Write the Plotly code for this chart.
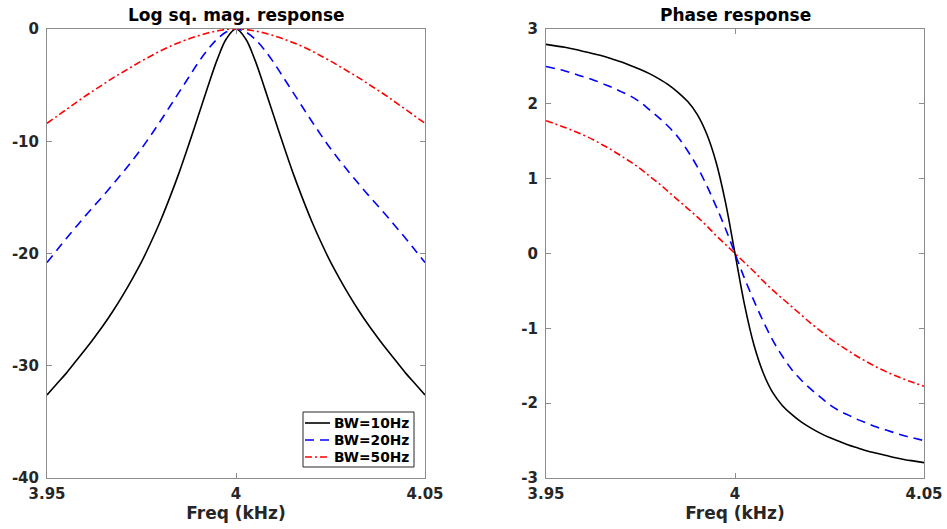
import plotly.graph_objects as go

# Frequency grid (kHz), 2.5 Hz steps from 3.95 to 4.05
FREQ_KHZ = [3.95, 3.9525, 3.955, 3.9575, 3.96, 3.9625, 3.965, 3.9675, 3.97, 3.9725,
            3.975, 3.9775, 3.98, 3.9825, 3.985, 3.9875, 3.99, 3.9925, 3.995, 3.9975,
            4.0,
            4.0025, 4.005, 4.0075, 4.01, 4.0125, 4.015, 4.0175, 4.02, 4.0225, 4.025,
            4.0275, 4.03, 4.0325, 4.035, 4.0375, 4.04, 4.0425, 4.045, 4.0475, 4.05]

SERIES_NAMES = ["BW=10Hz", "BW=20Hz", "BW=50Hz"]

# Log squared magnitude response (dB)
MAG_BW10 = [-32.6, -31.65, -30.7, -29.65, -28.6, -27.5, -26.35, -25.1, -23.75, -22.3,
            -20.75, -19.0, -17.1, -15.0, -12.75, -10.3, -7.75, -5.2, -2.75, -0.85,
            0.0,
            -0.85, -2.75, -5.2, -7.75, -10.3, -12.75, -15.0, -17.1, -19.0, -20.75,
            -22.3, -23.75, -25.1, -26.35, -27.5, -28.6, -29.65, -30.7, -31.65, -32.6]
MAG_BW20 = [-20.8, -19.75, -18.7, -17.7, -16.7, -15.75, -14.8, -13.8, -12.8, -11.75,
            -10.65, -9.45, -8.2, -6.9, -5.6, -4.3, -3.0, -1.85, -0.9, -0.25,
            0.0,
            -0.25, -0.9, -1.85, -3.0, -4.3, -5.6, -6.9, -8.2, -9.45, -10.65,
            -11.75, -12.8, -13.8, -14.8, -15.75, -16.7, -17.7, -18.7, -19.75, -20.8]
MAG_BW50 = [-8.4, -7.8, -7.2, -6.6, -6.0, -5.45, -4.9, -4.35, -3.85, -3.35,
            -2.85, -2.4, -1.95, -1.55, -1.2, -0.88, -0.6, -0.36, -0.17, -0.04,
            0.0,
            -0.04, -0.17, -0.36, -0.6, -0.88, -1.2, -1.55, -1.95, -2.4, -2.85,
            -3.35, -3.85, -4.35, -4.9, -5.45, -6.0, -6.6, -7.2, -7.8, -8.4]

# Phase response (rad)
PH_BW10 = [2.795, 2.775, 2.755, 2.73, 2.70, 2.67, 2.64, 2.60, 2.56, 2.51,
           2.46, 2.40, 2.33, 2.25, 2.15, 2.03, 1.86, 1.60, 1.22, 0.68,
           0.0,
           -0.68, -1.22, -1.60, -1.86, -2.03, -2.15, -2.25, -2.33, -2.40, -2.46,
           -2.51, -2.56, -2.60, -2.64, -2.67, -2.70, -2.73, -2.755, -2.775, -2.795]
PH_BW20 = [2.50, 2.47, 2.44, 2.40, 2.36, 2.32, 2.27, 2.22, 2.16, 2.10,
           2.02, 1.915, 1.81, 1.69, 1.55, 1.37, 1.16, 0.91, 0.63, 0.33,
           0.0,
           -0.33, -0.63, -0.91, -1.16, -1.37, -1.55, -1.69, -1.81, -1.915, -2.02,
           -2.10, -2.16, -2.22, -2.27, -2.32, -2.36, -2.40, -2.44, -2.47, -2.50]
PH_BW50 = [1.775, 1.73, 1.685, 1.635, 1.58, 1.52, 1.45, 1.38, 1.30, 1.22,
           1.13, 1.03, 0.93, 0.82, 0.71, 0.60, 0.49, 0.37, 0.24, 0.12,
           0.0,
           -0.12, -0.24, -0.37, -0.49, -0.60, -0.71, -0.82, -0.93, -1.03, -1.13,
           -1.22, -1.30, -1.38, -1.45, -1.52, -1.58, -1.635, -1.685, -1.73, -1.775]

X_TICKS = [3.95, 4.0, 4.05]
X_TICK_TEXT = ["3.95", "4", "4.05"]
MAG_TICKS = [0, -10, -20, -30, -40]
MAG_TICK_TEXT = ["0", "-10", "-20", "-30", "-40"]
PH_TICKS = [3, 2, 1, 0, -1, -2, -3]
PH_TICK_TEXT = ["3", "2", "1", "0", "-1", "-2", "-3"]

COLORS = ["#000000", "#0000ff", "#ff0000"]
DASHES = ["solid", "9px,6px", "7px,3px,2px,3px"]

FONT = "DejaVu Sans"
AX_COLOR = "#8c8c8c"
TXT_COLOR = "#262626"
LW = 1.6

fig = go.Figure()
mags = [MAG_BW10, MAG_BW20, MAG_BW50]
phs = [PH_BW10, PH_BW20, PH_BW50]
for i in range(3):
    fig.add_trace(go.Scatter(x=FREQ_KHZ, y=mags[i], mode="lines", name=SERIES_NAMES[i],
                             line=dict(color=COLORS[i], dash=DASHES[i], width=LW,
                                       shape="spline", smoothing=1.0),
                             xaxis="x", yaxis="y", showlegend=False))
for i in range(3):
    fig.add_trace(go.Scatter(x=FREQ_KHZ, y=phs[i], mode="lines", name=SERIES_NAMES[i],
                             line=dict(color=COLORS[i], dash=DASHES[i], width=LW,
                                       shape="spline", smoothing=1.0),
                             xaxis="x2", yaxis="y2", showlegend=False))

W, H = 947, 529
ml, mr, mt, mb = 47, 23, 29, 51
pw = W - ml - mr
ph = H - mt - mb
left_dom = [0, (425 - ml) / pw]
right_dom = [(546 - ml) / pw, 1]


def px_x(px):
    return (px - ml) / pw


def px_y(py):
    return (H - mb - py) / ph


axis_common = dict(showline=True, linecolor=AX_COLOR, linewidth=1, mirror="ticks",
                   ticks="inside", ticklen=5, tickcolor=AX_COLOR, showgrid=False, zeroline=False,
                   automargin=False,
                   tickfont=dict(family=FONT, size=15, color=TXT_COLOR, weight="bold"))
xtitle = dict(text="Freq (kHz)", standoff=1,
              font=dict(family=FONT, size=17, color=TXT_COLOR, weight="bold"))

# Legend (drawn box inside the left panel)
shapes = [dict(type="rect", xref="paper", yref="paper",
               x0=px_x(303), x1=px_x(414), y0=px_y(467), y1=px_y(412),
               line=dict(color=TXT_COLOR, width=1), fillcolor="white", layer="above")]
annotations = []
row_py = [423, 440, 457]
for i in range(3):
    shapes.append(dict(type="line", xref="paper", yref="paper",
                       x0=px_x(305), x1=px_x(330), y0=px_y(row_py[i]), y1=px_y(row_py[i]),
                       line=dict(color=COLORS[i], dash=DASHES[i], width=LW), layer="above"))
    annotations.append(dict(text=SERIES_NAMES[i], x=px_x(332), y=px_y(row_py[i]),
                            xref="paper", yref="paper", xanchor="left", yanchor="middle",
                            showarrow=False,
                            font=dict(family=FONT, size=13.8, color="#000000", weight="bold")))

annotations += [
    dict(text="Log sq. mag. response", x=sum(left_dom) / 2, y=1, xref="paper", yref="paper",
         xanchor="center", yanchor="bottom", yshift=2, showarrow=False,
         font=dict(family=FONT, size=17, color="#000000", weight="bold")),
    dict(text="Phase response", x=sum(right_dom) / 2, y=1, xref="paper", yref="paper",
         xanchor="center", yanchor="bottom", yshift=2, showarrow=False,
         font=dict(family=FONT, size=17, color="#000000", weight="bold")),
]

fig.update_layout(
    width=W, height=H,
    margin=dict(l=ml, r=mr, t=mt, b=mb),
    paper_bgcolor="white", plot_bgcolor="white",
    showlegend=False,
    xaxis=dict(domain=left_dom, range=[3.95, 4.05], tickvals=X_TICKS, ticktext=X_TICK_TEXT,
               anchor="y", title=xtitle, ticklabelstandoff=2, **axis_common),
    yaxis=dict(domain=[0, 1], range=[-40, 0], tickvals=MAG_TICKS, ticktext=MAG_TICK_TEXT,
               anchor="x", ticklabelstandoff=4, **axis_common),
    xaxis2=dict(domain=right_dom, range=[3.95, 4.05], tickvals=X_TICKS, ticktext=X_TICK_TEXT,
                anchor="y2", title=xtitle, ticklabelstandoff=2, **axis_common),
    yaxis2=dict(domain=[0, 1], range=[-3, 3], tickvals=PH_TICKS, ticktext=PH_TICK_TEXT,
                anchor="x2", ticklabelstandoff=4, **axis_common),
    shapes=shapes,
    annotations=annotations,
)

fig.write_html("out.html", config={"displayModeBar": False},
               post_script="document.body.style.margin='0';")
